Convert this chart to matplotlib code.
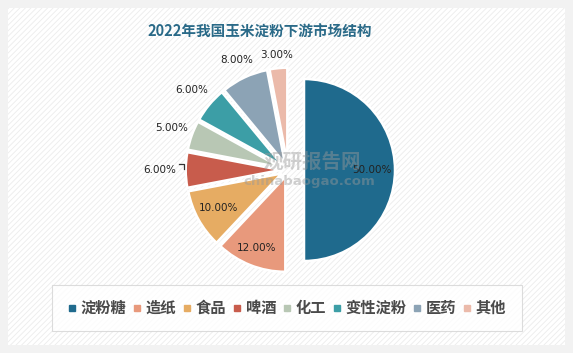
import numpy as np
import matplotlib.pyplot as plt
from matplotlib.patches import Rectangle
from matplotlib.lines import Line2D

plt.rcParams['font.family'] = ['Noto Sans CJK SC', 'DejaVu Sans']
plt.rcParams['hatch.linewidth'] = 0.6

# 数据
categorias = ["淀粉糖", "造纸", "食品", "啤酒", "化工", "变性淀粉", "医药", "其他"]
valores = [50.0, 12.0, 10.0, 6.0, 5.0, 6.0, 8.0, 3.0]
colores = ["#1f6a8d", "#e8997c", "#e6ac63", "#c85c4c", "#b8c7b4",
           "#3c9ea6", "#8ca3b5", "#ebbaaa"]

titulo = "2022年我国玉米淀粉下游市场结构"

W, H = 573, 353
fig = plt.figure(figsize=(W / 100, H / 100), dpi=100)
fig.patch.set_facecolor("#f2f2f2")

# panel con rayado diagonal suave
fig.patches.append(Rectangle((8 / W, 8 / H), 557 / W, 337 / H, transform=fig.transFigure,
                             facecolor="white", edgecolor="none", zorder=-2))
fig.patches.append(Rectangle((8 / W, 8 / H), 557 / W, 337 / H, transform=fig.transFigure,
                             facecolor="none", edgecolor="#ececec", hatch="//////",
                             linewidth=0, zorder=-1))

ax = fig.add_axes([0, 0, 1, 1])
ax.patch.set_alpha(0)

# centro y radio en píxeles (ejes = figura)
cx, cy, r = 288, H - 170, 95
explode = [16] + [7.3] * 7
wedges, _ = ax.pie(valores, colors=colores, startangle=90, counterclock=False,
                   center=(cx, cy), radius=r, explode=explode, frame=True,
                   wedgeprops=dict(edgecolor="white", linewidth=1.8))
wedges[0].set_radius(91)
ax.set_xlim(0, W)
ax.set_ylim(0, H)
ax.set_aspect("equal")
ax.axis("off")

# etiquetas de porcentaje
dist = [0.75, 0.81, 0.76, 1.35, 1.30, 1.32, 1.28, 1.22]
for w, v, d in zip(wedges, valores, dist):
    ang = np.deg2rad((w.theta1 + w.theta2) / 2)
    if d < 1:
        x0, y0 = w.center
        rr = w.r
    else:
        x0, y0 = cx, cy
        rr = r
    ax.text(x0 + d * rr * np.cos(ang), y0 + d * rr * np.sin(ang), f"{v:.2f}%",
            ha="center", va="center", fontsize=7.5, color="#222222",
            family="DejaVu Sans", zorder=5)

# pequeña línea guía (啤酒)
w = wedges[3]
ang = np.deg2rad((w.theta1 + w.theta2) / 2)
px, py = cx + 1.10 * r * np.cos(ang), cy + 1.10 * r * np.sin(ang)
ax.add_line(Line2D([px - 5, px, px], [py + 6, py + 6, py + 1], color="#333333",
                   linewidth=0.9, zorder=5))

# marca de agua
ax.text(312, H - 162, "观研报告网", ha="center", va="center", fontsize=14,
        fontweight="bold", color="#9a9a9a", alpha=0.45, zorder=6)
ax.text(309, H - 182, "chinabaogao.com", ha="center", va="center", fontsize=9.5,
        fontweight="bold", color="#9a9a9a", alpha=0.45, family="DejaVu Sans", zorder=6)

# título
fig.text(260 / W, 1 - 32 / H, titulo, ha="center", va="center", fontsize=10.5,
         fontweight="bold", color="#2a6a88")

# leyenda
handles = [Line2D([], [], marker="s", linestyle="none", markersize=4.5,
                  markerfacecolor=c, markeredgecolor=c) for c in colores]
leg = fig.legend(handles, categorias, loc="center", ncol=8,
                 bbox_to_anchor=(287 / W, 1 - 308 / H), frameon=True,
                 prop=dict(size=11, weight="bold"), handlelength=0.6, handletextpad=0.25,
                 columnspacing=0.42, borderpad=1.0, borderaxespad=0, fancybox=False)
leg.get_frame().set_edgecolor("#d4d4d4")
leg.get_frame().set_linewidth(0.8)
for t in leg.get_texts():
    t.set_color("#4a4a4a")

fig.savefig("out.png", dpi=100, facecolor=fig.get_facecolor())
